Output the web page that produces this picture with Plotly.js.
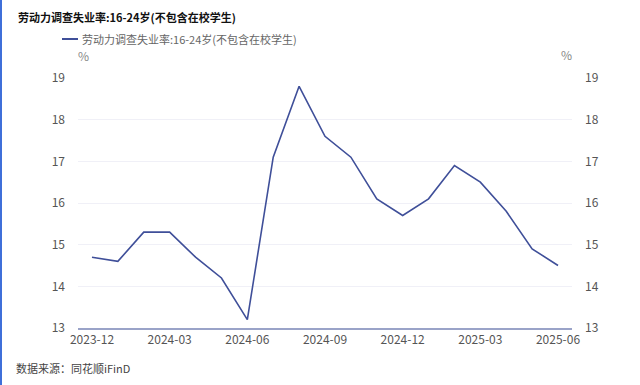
<!DOCTYPE html>
<html>
<head>
<meta charset="utf-8">
<script src="https://cdn.plot.ly/plotly-3.0.1.min.js"></script>
<style>
  html, body { margin: 0; padding: 0; background: #fff; }
  #wrap { position: relative; width: 640px; height: 385px; }
  #edge { position: absolute; left: 0; top: 0; width: 2px; height: 385px; background: #3f6fd9; z-index: 5; }
  #chart { position: absolute; left: 0; top: 0; width: 640px; height: 385px; }
</style>
</head>
<body>
<div id="wrap"><div id="edge"></div><div id="chart"></div></div>
<script>
const months = ['2023-12','2024-01','2024-02','2024-03','2024-04','2024-05','2024-06','2024-07','2024-08','2024-09','2024-10','2024-11','2024-12','2025-01','2025-02','2025-03','2025-04','2025-05','2025-06'];
const rate = [14.7,14.6,15.3,15.3,14.7,14.2,13.2,17.1,18.8,17.6,17.1,16.1,15.7,16.1,16.9,16.5,15.8,14.9,14.5];
const tickMonths = ['2023-12','2024-03','2024-06','2024-09','2024-12','2025-03','2025-06'];
const yTicks = [13,14,15,16,17,18,19];
const seriesName = '劳动力调查失业率:16-24岁(不包含在校学生)';
const chartTitle = '劳动力调查失业率:16-24岁(不包含在校学生)';
const sourceText = '数据来源：同花顺iFinD';
const unitText = '%';

const font = 'Microsoft YaHei, "Noto Sans CJK SC", sans-serif';
const tickFont = {family: font, size: 12, color: '#555'};
const lineColor = '#3f4f99';

const data = [
  {x: months, y: rate, type: 'scatter', mode: 'lines', name: seriesName,
   line: {color: lineColor, width: 1.6}, showlegend: false},
  {x: months, y: rate, type: 'scatter', mode: 'lines', yaxis: 'y2',
   line: {color: 'rgba(0,0,0,0)', width: 0}, showlegend: false, hoverinfo: 'skip'}
];

const L = 78, R = 68, T = 78, B = 57, W = 640, H = 385;
const pw = W - L - R, ph = H - T - B;
function px(x) { return (x - L) / pw; }
function py(y) { return (H - B - y) / ph; }

const layout = {
  width: W, height: H,
  margin: {l: L, r: R, t: T, b: B},
  paper_bgcolor: '#fff', plot_bgcolor: '#fff',
  font: {family: font},
  showlegend: false,
  xaxis: {type: 'category', range: [-0.54, 18.54], tickmode: 'array', tickvals: tickMonths, ticktext: tickMonths,
          showgrid: false, showline: true, linecolor: '#9aa3c8', linewidth: 1.5, ticks: '',
          tickfont: tickFont, fixedrange: true, zeroline: false},
  yaxis: {range: [13, 19], tickvals: yTicks, showgrid: true, gridcolor: '#f0f0f7', gridwidth: 1,
          showline: false, zeroline: false, ticks: '', ticklabelstandoff: 12, tickfont: tickFont},
  yaxis2: {range: [13, 19], tickvals: yTicks, overlaying: 'y', side: 'right', showgrid: false,
           showline: false, zeroline: false, ticks: '', ticklabelstandoff: 12, tickfont: tickFont},
  shapes: [
    {type: 'line', xref: 'paper', yref: 'paper', x0: px(62), x1: px(78), y0: py(39), y1: py(39),
     line: {color: lineColor, width: 2}}
  ],
  annotations: [
    {text: '<b>' + chartTitle + '</b>', xref: 'paper', yref: 'paper', x: px(16), y: py(17),
     xanchor: 'left', yanchor: 'middle', showarrow: false, font: {family: font, size: 11, color: '#111'}},
    {text: seriesName, xref: 'paper', yref: 'paper', x: px(80), y: py(39),
     xanchor: 'left', yanchor: 'middle', showarrow: false, font: {family: font, size: 11, color: '#666'}},
    {text: unitText, xref: 'paper', yref: 'paper', x: px(83), y: py(56),
     xanchor: 'center', yanchor: 'middle', showarrow: false, font: {family: font, size: 12, color: '#888'}},
    {text: unitText, xref: 'paper', yref: 'paper', x: px(566), y: py(55),
     xanchor: 'center', yanchor: 'middle', showarrow: false, font: {family: font, size: 12, color: '#888'}},
    {text: sourceText, xref: 'paper', yref: 'paper', x: px(14), y: py(368),
     xanchor: 'left', yanchor: 'middle', showarrow: false, font: {family: font, size: 11, color: '#444'}}
  ]
};

Plotly.newPlot('chart', data, layout, {displayModeBar: false, staticPlot: true});
</script>
</body>
</html>
